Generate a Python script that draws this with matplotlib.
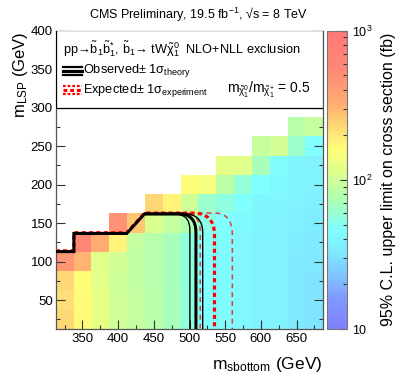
import numpy as np
import matplotlib
matplotlib.use("Agg")
import matplotlib.pyplot as plt
from matplotlib.colors import LinearSegmentedColormap, LogNorm
from matplotlib.path import Path
from matplotlib.patches import PathPatch, Rectangle
from matplotlib.lines import Line2D
from matplotlib.ticker import LogLocator, FixedLocator, NullFormatter

plt.rcParams['font.family'] = ['Liberation Sans', 'DejaVu Sans']
plt.rcParams['mathtext.fontset'] = 'custom'
plt.rcParams['mathtext.rm'] = 'Liberation Sans'
plt.rcParams['mathtext.it'] = 'Liberation Sans'
plt.rcParams['mathtext.bf'] = 'Liberation Sans:bold'
plt.rcParams['mathtext.sf'] = 'Liberation Sans'

# ---------------- data ----------------
x_centers = [325, 350, 375, 400, 425, 450, 475, 500, 525, 550, 575, 600, 625, 650, 675]
y_centers = [25, 50, 75, 100, 125, 150, 175, 200, 225, 250, 275]

# upper limit (fb) per sbottom column, from m_LSP = 25 upward
limit_columns = [
    [225, 215, 225, 450],
    [165, 165, 160, 300, 600],
    [128, 128, 122, 118, 330],
    [100, 100, 100, 102, 175, 480],
    [90, 90, 88, 88, 90, 260],
    [82, 82, 80, 80, 80, 110, 230],
    [70, 70, 70, 70, 70, 92, 175],
    [56, 56, 55, 55, 55, 75, 100, 160],
    [46, 46, 46, 46, 48, 52, 62, 145],
    [44, 44, 44, 44, 44, 46, 55, 85, 120],
    [42, 42, 42, 42, 42, 42, 46, 58, 118],
    [38, 38, 38, 38, 38, 40, 40, 46, 70, 92],
    [38, 38, 38, 38, 38, 38, 40, 42, 44, 105],
    [34, 34, 34, 34, 35, 36, 38, 40, 40, 63, 82],
    [32, 32, 32, 33, 34, 35, 36, 38, 38, 46, 92],
]

# shared staircase edge of the excluded region
stair_x = [312.5, 338, 338, 412, 437]
stair_y = [113, 113, 136.5, 136.5, 162]
stair_y_exp = [114, 114, 137.5, 137.5, 163]

# corner of each contour: top y, x where rounding starts, vertical x, y where vertical starts
obs_corner = [162, 485, 509, 138]
obs_minus_corner = [161, 482, 500.5, 141]
obs_plus_corner = [162.5, 490, 518.5, 138]
exp_corner = [163, 505, 535, 135]
exp_minus_corner = [163, 490, 515, 140]
exp_plus_corner = [163, 535, 560, 135]
y_min, y_max = 12.5, 400
x_min, x_max = 312.5, 687.5

# ---------------- figure ----------------
fig = plt.figure(figsize=(3.99, 3.83), dpi=100)
ax = fig.add_axes([55.7 / 399, 54 / 383, 267.6 / 399, 298.5 / 383])
cax = fig.add_axes([326.7 / 399, 54 / 383, 20 / 399, 298.5 / 383])

anchors = [
    (0.00, (128, 128, 255)),
    (0.10, (128, 152, 255)),
    (0.17, (128, 192, 255)),
    (0.25, (128, 230, 255)),
    (0.33, (128, 255, 255)),
    (0.37, (144, 255, 224)),
    (0.44, (176, 255, 176)),
    (0.50, (208, 255, 152)),
    (0.54, (226, 255, 136)),
    (0.60, (255, 255, 120)),
    (0.65, (255, 232, 120)),
    (0.75, (255, 176, 112)),
    (0.87, (255, 136, 118)),
    (1.00, (255, 120, 120)),
]
cmap = LinearSegmentedColormap.from_list(
    "cms", [(p, tuple(c / 255 for c in col)) for p, col in anchors], N=256)

Z = np.full((len(y_centers), len(x_centers)), np.nan)
for i, col in enumerate(limit_columns):
    for j, v in enumerate(col):
        Z[j, i] = v
Zm = np.ma.masked_invalid(Z)
x_edges = np.array(x_centers, float) - 12.5
x_edges = np.append(x_edges, x_centers[-1] + 12.5)
y_edges = np.array(y_centers, float) - 12.5
y_edges = np.append(y_edges, y_centers[-1] + 12.5)
norm = LogNorm(vmin=10, vmax=1000)
mesh = ax.pcolormesh(x_edges, y_edges, Zm, cmap=cmap, norm=norm, shading='flat',
                     edgecolors='none', zorder=1)
ax.set_xlim(x_min, x_max)
ax.set_ylim(y_min, y_max)


def contour_path(sx, sy, corner):
    top, xs, xv, ye = corner
    verts = [(x, y) for x, y in zip(sx[:-1], sy[:-1])] + [(sx[-1], top)]
    codes = [Path.MOVETO] + [Path.LINETO] * (len(verts) - 1)
    verts += [(xs, top), (xv, top), (xv, ye), (xv, y_min)]
    codes += [Path.LINETO, Path.CURVE3, Path.CURVE3, Path.LINETO]
    return Path(verts, codes)


red = '#ff0000'
thin_red = '#e43a3a'
for corner, lw, ls, color, sx, sy in [
    (exp_minus_corner, 1.1, (0, (3.2, 2.6)), thin_red, stair_x[-1:], stair_y_exp[-1:]),
    (exp_plus_corner, 1.1, (0, (3.2, 2.6)), thin_red, stair_x[-1:], stair_y_exp[-1:]),
    (exp_corner, 2.3, (0, (1.3, 1.0)), red, stair_x, stair_y_exp),
    (obs_minus_corner, 1.0, '-', 'black', stair_x[-1:], stair_y[-1:]),
    (obs_plus_corner, 1.0, '-', 'black', stair_x[-1:], stair_y[-1:]),
    (obs_corner, 2.2, '-', 'black', stair_x, stair_y),
]:
    p = contour_path(sx, sy, corner)
    ax.add_patch(PathPatch(p, facecolor='none', edgecolor=color, lw=lw,
                           linestyle=ls, zorder=5, capstyle='butt'))

# ticks
ax.xaxis.set_major_locator(FixedLocator([350, 400, 450, 500, 550, 600, 650]))
ax.xaxis.set_minor_locator(FixedLocator([325, 375, 425, 475, 525, 575, 625, 675]))
ax.yaxis.set_major_locator(FixedLocator([50, 100, 150, 200, 250, 300, 350, 400]))
ax.yaxis.set_minor_locator(FixedLocator([25, 75, 125, 175, 225, 275, 325, 375]))
ax.tick_params(which='both', direction='in', left=True, right=True, bottom=True, top=False,
               labelsize=9.5, color='#333333')
ax.tick_params(which='major', length=6.3, width=0.8)
ax.tick_params(which='minor', length=3.0, width=0.8)
ax.tick_params(axis='y', pad=2)
ax.tick_params(axis='x', pad=3)
for s in ax.spines.values():
    s.set_color('#555555')
    s.set_linewidth(0.9)

# legend box
ax.add_patch(Rectangle((x_min, 300), x_max - x_min, 100, facecolor='white',
                       edgecolor='black', lw=0.9, zorder=8))
fs_leg = 9.2
ax.text(322.6, 376, r"pp→$\tilde{\mathrm{b}}_{1}\tilde{\mathrm{b}}_{1}^{*}$, "
        r"$\tilde{\mathrm{b}}_{1}$→ tW$\tilde{\chi}_{1}^{0}$  NLO+NLL exclusion",
        fontsize=fs_leg, ha='left', va='center', zorder=9)
for yy, lw in [(353, 1.6), (347.8, 2.3), (342.6, 1.6)]:
    ax.add_line(Line2D([323, 349.8], [yy, yy], color='black', lw=lw, zorder=9, clip_on=False))
for yy, lw in [(327.9, 1.6), (322.7, 2.3), (317.4, 1.6)]:
    ax.add_line(Line2D([323, 349.8], [yy, yy], color=red, lw=lw, ls=(0, (1.2, 0.9)),
                       zorder=9, clip_on=False))
ax.text(350.8, 347.8, r"Observed$\pm$ 1$\sigma_{\mathrm{theory}}$", fontsize=fs_leg,
        ha='left', va='center', zorder=9)
ax.text(350.8, 322.7, r"Expected$\pm$ 1$\sigma_{\mathrm{experiment}}$", fontsize=fs_leg,
        ha='left', va='center', zorder=9)
ax.text(553, 322.7, r"m$_{\tilde{\chi}_{1}^{0}}$/m$_{\tilde{\chi}_{1}^{+}}$ = 0.5",
        fontsize=10, ha='left', va='center', zorder=9)

# colorbar
cb = fig.colorbar(mesh, cax=cax)
cb.outline.set_edgecolor('#777777')
cb.outline.set_linewidth(0.8)
cax.yaxis.set_major_locator(FixedLocator([10, 100, 1000]))
cax.yaxis.set_minor_locator(LogLocator(base=10, subs=np.arange(2, 10)))
cax.yaxis.set_minor_formatter(NullFormatter())
cax.set_yticklabels(['10', r'10$^{2}$', r'10$^{3}$'])
cax.tick_params(which='both', direction='in', right=True, labelsize=9, pad=4, color='#333333')
cax.tick_params(which='major', length=5, width=0.8)
cax.tick_params(which='minor', length=2.8, width=0.8)

# texts
fig.text(0.4975, 1 - 15 / 383, r"CMS Preliminary, 19.5 fb$^{-1}$, √s = 8 TeV",
         fontsize=9.0, ha='center', va='center')
fig.text(20 / 399, 1 - 32 / 383, r"m$_{\mathrm{LSP}}$ (GeV)", rotation=90,
         fontsize=12, ha='center', va='top')
fig.text(322 / 399, 1 - 365 / 383, r"m$_{\mathrm{sbottom}}$ (GeV)",
         fontsize=12.5, ha='right', va='center')
fig.text(389 / 399, 1 - 179 / 383, "95% C.L. upper limit on cross section (fb)",
         rotation=90, fontsize=11.5, ha='center', va='center')

fig.savefig("out.png", dpi=100)
